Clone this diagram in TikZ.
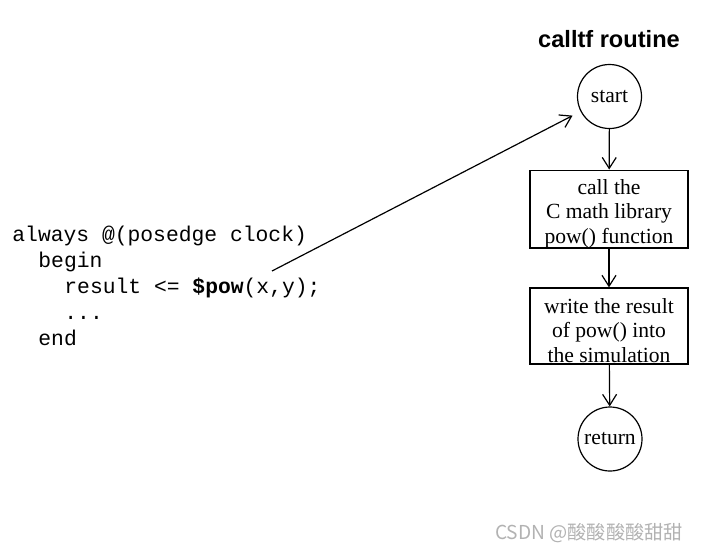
\documentclass[tikz,border=0pt]{standalone}
\usepackage{fontspec}
\setmainfont{Liberation Serif}
\newfontfamily\codefont{Liberation Mono}
\newfontfamily\titlefont{Liberation Sans}
\newfontfamily\cjkfont{Noto Sans CJK SC}
\usetikzlibrary{arrows.meta, positioning}

\begin{document}
\begin{tikzpicture}[
    x=0.5pt, y=-0.5pt,
    every node/.style={font=\fontsize{10.8}{12.3}\selectfont},
    terminal/.style={circle, draw, line width=0.6pt, minimum size=32pt, inner sep=0pt},
    process/.style={rectangle, draw, line width=0.6pt, minimum width=79pt, minimum height=38pt, inner sep=0pt, align=center},
    codeline/.style={anchor=base west, inner sep=0pt, font=\codefont\fontsize{10.67}{13}\selectfont},
    flow/.style={-{Straight Barb[length=5.5pt, width=7pt]}, line width=0.6pt},
    heading/.style={font=\titlefont\bfseries\fontsize{11.8}{14}\selectfont},
    watermark/.style={font=\cjkfont\fontsize{9.6}{12}\selectfont, text=gray!60},
]
\useasboundingbox (0,0) rectangle (702,552);
% Verilog code
\node[codeline] (code1) at (12, 241) {always @(posedge clock)};
\node[codeline] (code2) at (38, 267) {begin};
\node[codeline] (code3) at (64, 293) {result <= {\bfseries\$pow}(x,y);};
\node[codeline] (code4) at (64, 319) {...};
\node[codeline] (code5) at (38, 345) {end};
\coordinate (call) at (272, 271);
% calltf routine
\node[heading] (title) at (609, 39) {calltf routine};
\node[terminal] (start) at (609.5, 96.5) {start};
\node[process] (callpow) at (609, 209) {\rule{0pt}{12pt}call the\\C math library\\pow() function};
\node[process] (writeres) at (609, 326) {\rule{0pt}{12pt}write the result\\of pow() into\\the simulation};
\node[terminal] (ret) at (610, 439) {return};
\draw[flow] (start) -- (callpow);
\draw[flow] (callpow) -- (writeres);
\draw[flow] (writeres) -- (ret);
\draw[flow, shorten >=4.5pt] (call) -- (start);
\node[watermark, anchor=east] (mark) at (690, 533) {CSDN @酸酸酸酸甜甜};
\end{tikzpicture}
\end{document}
